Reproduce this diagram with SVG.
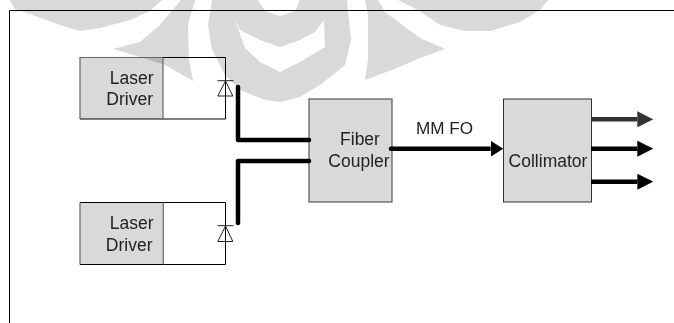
<svg xmlns="http://www.w3.org/2000/svg" width="674" height="323" viewBox="0 0 674 323">
  <style>
    .wm { fill: #d9d9d9; }
    .box { fill: #d9d9d9; mix-blend-mode: multiply; }
    .edge { fill: none; stroke: #000; stroke-width: 1; }
    .gedge { fill: none; stroke: #666; stroke-width: 1.2; }
    .dedge { fill: none; stroke: #333; stroke-width: 1; }
    .diode { fill: none; stroke: #222; stroke-width: 1; }
    .wire { fill: none; stroke: #000; stroke-width: 4.5; stroke-linecap: round; stroke-linejoin: round; }
    text { font-family: "Liberation Sans", Arial, sans-serif; font-size: 17.5px; fill: #222; }
    .r { text-anchor: end; }
    .m { text-anchor: middle; }
  </style>
  <defs>
    <marker id="head" markerUnits="userSpaceOnUse" markerWidth="16" markerHeight="16" refX="0" refY="8" orient="auto">
      <path d="M0,0L16,8L0,16Z" fill="#000"/>
    </marker>
    <marker id="headd" markerUnits="userSpaceOnUse" markerWidth="16" markerHeight="16" refX="0" refY="8" orient="auto">
      <path d="M0,0L16,8L0,16Z" fill="#333"/>
    </marker>
    <marker id="heads" markerUnits="userSpaceOnUse" markerWidth="13" markerHeight="16" refX="0" refY="8" orient="auto">
      <path d="M0,0L12.5,8L0,16Z" fill="#000"/>
    </marker>
  </defs>
  <rect width="674" height="323" fill="#fff"/>
  <g id="watermark" class="wm">
    <polygon points="10,0 15,9 30,14 60,25 80,31 100,28 130,20 150,11 162,0"/>
    <polygon points="181,0 195,0 188,25 189,60 193,81 165,65 140,57 113,49 140,42 160,25"/>
    <path fill-rule="evenodd" d="M212,0L208,25L212,50L225,75L240,90L265,100L280,102L300,97L320,85L345,65L351,40L347,0L300,0L295,11L280,16L265,11L258,0ZM235,20L240,30L260,40L280,47L300,40L315,32L324,20L325,47L320,50L300,62L280,72L260,62L245,48Z"/>
    <polygon points="365,0 378,0 385,12 420,38 445,49 420,58 397,68 365,80 368,60 368,15"/>
    <polygon points="398,0 418,10 440,25 465,31 490,31 520,22 540,10 548,0"/>
  </g>
  <path id="frame" class="edge" d="M674,10.5H9.5V323"/>
  <g id="driver-1">
    <rect class="box" x="80" y="57.5" width="83" height="61.5"/>
    <path class="edge" d="M163,57.5H225.5V119H80"/>
    <path class="gedge" d="M80,119V57.5H163M163,57.5V119"/>
    <text class="r" x="153.5" y="83.5">Laser</text>
    <text class="r" x="153" y="105">Driver</text>
  </g>
  <g id="diode-1" class="diode">
    <path d="M217.5,80.7H233.5M225.5,81L232.8,96H217.8Z"/>
  </g>
  <g id="driver-2">
    <rect class="box" x="80" y="202.5" width="83" height="62"/>
    <path class="edge" d="M80,202.5H225.5V264.5H80"/>
    <path class="gedge" d="M80,264.5V202.5M163.3,202.5V264.5"/>
    <text class="r" x="153.5" y="229">Laser</text>
    <text class="r" x="152.5" y="250.5">Driver</text>
  </g>
  <g id="diode-2" class="diode">
    <path d="M217.5,225.7H233.5M225.5,226L232.8,241.5H217.8Z"/>
  </g>
  <g id="fiber-coupler">
    <rect class="box" x="309" y="99" width="83" height="103"/>
    <rect class="gedge" x="309" y="99" width="83" height="103" style="stroke:#555"/>
    <text class="m" x="360" y="145">Fiber</text>
    <text class="m" x="359" y="167">Coupler</text>
  </g>
  <g id="collimator">
    <rect class="box" x="503.5" y="99" width="88" height="103"/>
    <rect class="dedge" x="503.5" y="99" width="88" height="103"/>
    <text class="m" x="548" y="167">Collimator</text>
  </g>
  <text id="mm-fo" x="416" y="134" style="font-size:17.1px">MM FO</text>
  <g id="connectors">
    <path class="wire" d="M238,87V140H309"/>
    <path class="wire" d="M238,223V161H309"/>
    <path class="wire" d="M391,148.7H490.7" style="stroke-linecap:butt" marker-end="url(#heads)"/>
    <circle cx="391" cy="148.7" r="2.25"/>
    <path class="wire" d="M591,119.3H637.3" style="stroke:#333;stroke-linecap:butt" marker-end="url(#headd)"/>
    <path class="wire" d="M591,148.7H637.3" style="stroke-linecap:butt" marker-end="url(#head)"/>
    <path class="wire" d="M591,181.7H637.3" style="stroke-linecap:butt" marker-end="url(#head)"/>
  </g>
</svg>
